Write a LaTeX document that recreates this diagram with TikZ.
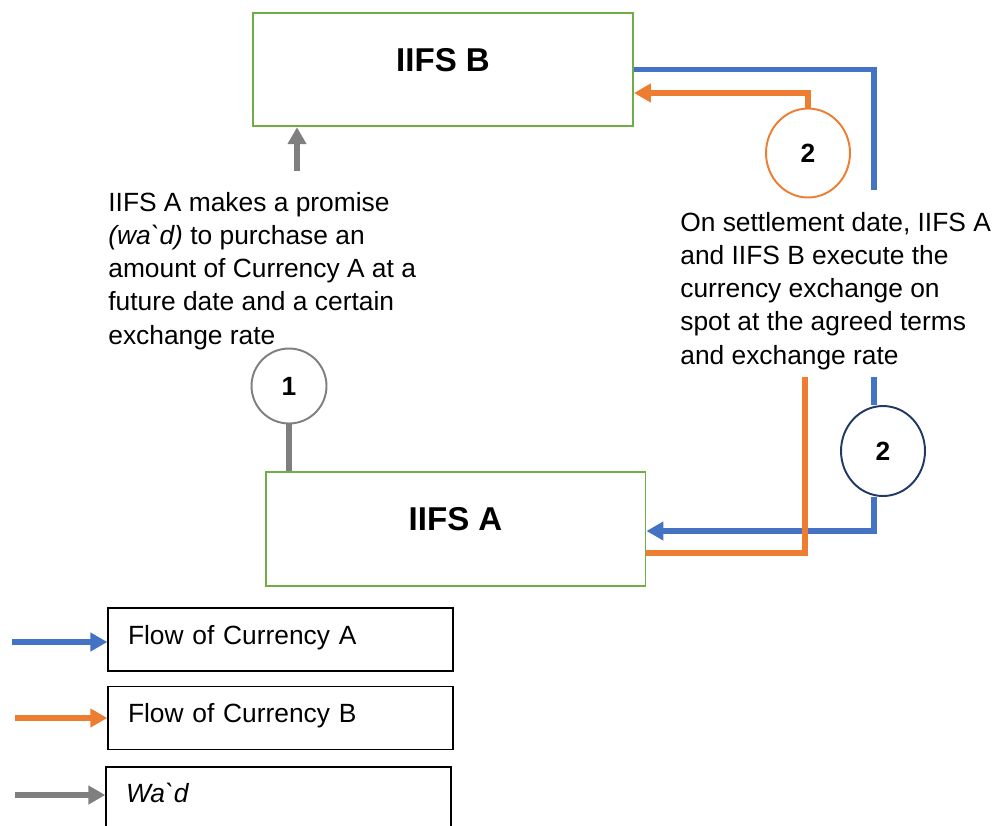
\documentclass[tikz,border=0pt]{standalone}
\usepackage{fontspec}
\setmainfont{Liberation Sans}
\usetikzlibrary{arrows.meta,positioning,shapes.geometric}

\definecolor{partygreen}{HTML}{70AD47}
\definecolor{flowA}{HTML}{4472C4}
\definecolor{flowB}{HTML}{ED7D31}
\definecolor{wadgrey}{HTML}{7F7F7F}
\definecolor{stepnavy}{HTML}{1F3864}

\begin{document}
\begin{tikzpicture}[x=0.02cm,y=-0.02cm,font=\fontsize{15}{18.8}\selectfont,
    >={Triangle[length=0.34cm,width=0.36cm]}]
       \tikzstyle{party}=[draw=partygreen, line width=1.1pt, inner sep=0pt, minimum width=7.6cm,
         text height=1.17cm, text depth=1.1cm, font=\fontsize{18.8}{22}\selectfont\bfseries]
       \tikzstyle{stepno}=[draw, line width=1.1pt, fill=white, inner sep=0pt,
         font=\fontsize{15}{18}\selectfont\bfseries]
       \tikzstyle{keybox}=[draw, line width=0.8pt, inner xsep=0.4cm, inner ysep=0pt,
         text width=6.1cm, align=left, text height=0.72cm, text depth=0.54cm]
       \tikzstyle{note}=[anchor=base west, align=left, inner sep=0pt]
       \tikzstyle{flow}=[line width=3.4pt]

       \useasboundingbox (0,0) rectangle (1003,825);

       % parties
       \node[party] (iifsB) at (443,69.5) {IIFS B};
       \node[party] (iifsA) at (455.5,529) {IIFS A};

       % notes (anchored on their last line)
       \node[note] (promise) at (108,344) {IIFS A makes a promise\\
         \textit{(wa\textasciigrave d)} to purchase an\\
         amount of Currency A at a\\
         future date and a certain\\
         exchange rate};
       \node[note] (settle) at (680,364) {On settlement date, IIFS A\\
         and IIFS B execute the\\
         currency exchange on\\
         spot at the agreed terms\\
         and exchange rate};

       % steps
       \node[stepno, circle, draw=wadgrey, minimum size=1.5cm] (stepOne) at (289,386) {1};
       \node[stepno, ellipse, draw=flowB, minimum width=1.68cm, minimum height=1.78cm] (stepTwoB) at (808,153) {2};
       \node[stepno, ellipse, draw=stepnavy, minimum width=1.68cm, minimum height=1.8cm] (stepTwoA) at (883,451) {2};

       \coordinate (wadTail) at (297,171);
       \coordinate (aTopEnd) at (874,190);
       \coordinate (aBotStart) at (874,377);
       \coordinate (bBotStart) at (805,377);

       % wa`d
       \draw[flow, wadgrey, ->] (wadTail) -- (wadTail |- iifsB.south);
       \draw[flow, wadgrey, line width=3pt] (stepOne.south) -- (stepOne.south |- iifsA.north);

       % currency flows
       \draw[flow, flowB, ->] (stepTwoB.north) |- ([yshift=-0.47cm]iifsB.east);
       \draw[flow, flowA] (iifsB.east) -| (aTopEnd);
       \draw[flow, flowA] (aBotStart) -- (aBotStart |- stepTwoA.north);
       \draw[flow, flowA, ->] (aBotStart |- stepTwoA.south) |- ([yshift=-0.04cm]iifsA.east);
       \draw[flow, flowB] (bBotStart) |- ([yshift=-0.48cm]iifsA.east);

       % legend
       \node[keybox] (keyA) at (280.5,639.5) {Flow of Currency A};
       \node[keybox] (keyB) [below=0.28cm of keyA] {Flow of Currency B};
       \node[keybox] (keyC) [below=0.32cm of keyB, xshift=-0.04cm] {\textit{Wa\textasciigrave d}};

       \coordinate (tailA) at (12,642);
       \coordinate (tailB) at (15,718);
       \coordinate (tailC) at (15,795);
       \draw[flow, flowA, ->] (tailA) -- (tailA -| keyA.west);
       \draw[flow, flowB, ->] (tailB) -- (tailB -| keyB.west);
       \draw[flow, wadgrey, ->] (tailC) -- (tailC -| keyC.west);

     \end{tikzpicture}
\end{document}
